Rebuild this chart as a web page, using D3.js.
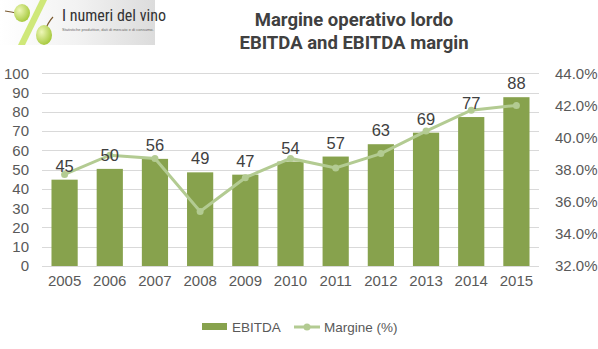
<!DOCTYPE html>
<html><head><meta charset="utf-8">
<script src="https://cdn.jsdelivr.net/npm/d3@7"></script>
<style>
body{margin:0;background:#fff;}
svg{display:block;}
</style></head>
<body>
<svg id="c" width="598" height="349"></svg>
<script>
const years = ["2005","2006","2007","2008","2009","2010","2011","2012","2013","2014","2015"];
const ebitda = [44.8, 50.4, 55.6, 48.6, 47.4, 54.2, 56.8, 63.2, 69.2, 77.3, 87.6];
const margin = [37.7, 38.9, 38.7, 35.4, 37.5, 38.7, 38.1, 39.0, 40.4, 41.7, 42.0];
const leftTicks = [0,10,20,30,40,50,60,70,80,90,100];
const rightTicks = [32,34,36,38,40,42,44];
const titleLines = ["Margine operativo lordo","EBITDA and EBITDA margin"];

const svg = d3.select("#c");
const font = "'Liberation Sans',Arial,sans-serif";
const tfont = "Roboto,'Liberation Sans',Arial,sans-serif";
const x0 = 42, x1 = 539, yTop = 73.3, yBot = 266;
const x = d3.scaleBand().domain(years).range([x0,x1]).paddingInner(0.42).paddingOuter(0.21);
const y = d3.scaleLinear().domain([0,100]).range([yBot,yTop]);
const y2 = d3.scaleLinear().domain([32,44]).range([yBot,yTop]);
const barColor = "#87a24d", lineColor = "#b3cb92", txt = "#595959";

// Logo
const defs = svg.append("defs");
const g1 = defs.append("linearGradient").attr("id","lg").attr("x1",0).attr("x2",1);
g1.append("stop").attr("offset","0").attr("stop-color","#ffffff");
g1.append("stop").attr("offset","0.5").attr("stop-color","#f2f2f2");
g1.append("stop").attr("offset","1").attr("stop-color","#dcdcdc");
const rg = defs.append("radialGradient").attr("id","grape").attr("cx","0.35").attr("cy","0.35").attr("r","0.7");
rg.append("stop").attr("offset","0").attr("stop-color","#eef7b8");
rg.append("stop").attr("offset","1").attr("stop-color","#a5c83a");
const logo = svg.append("g");
logo.append("rect").attr("x",0).attr("y",0).attr("width",155).attr("height",45).attr("fill","url(#lg)");
logo.append("polygon").attr("points","40,0 47,0 25,45 18,45").attr("fill","#cfe879");
logo.append("path").attr("d","M5,11 Q12,12 16,13").attr("stroke","#7a5a30").attr("stroke-width",1.2).attr("fill","none");
logo.append("ellipse").attr("cx",22).attr("cy",13).attr("rx",8).attr("ry",9).attr("fill","url(#grape)");
logo.append("path").attr("d","M44,33 Q48,22 53,17").attr("stroke","#7a5a30").attr("stroke-width",1.2).attr("fill","none");
logo.append("ellipse").attr("cx",44).attr("cy",35).attr("rx",8).attr("ry",10).attr("fill","url(#grape)");
logo.append("text").attr("x",62).attr("y",21).attr("font-family","'Liberation Sans Narrow','Roboto Condensed',Arial").attr("font-size",16).attr("fill","#333").text("I numeri del vino");
logo.append("text").attr("x",62).attr("y",31).attr("font-family","Liberation Sans,Arial").attr("font-size",4).attr("fill","#666").text("Statistiche produttive, dati di mercato e di consumo.");

// Title
svg.append("g").selectAll("text").data(titleLines).join("text")
  .attr("x",354).attr("y",(d,i)=>26+i*23).attr("text-anchor","middle")
  .attr("font-family",tfont).attr("font-weight","bold").attr("font-size",18.5).attr("fill","#404040").text(d=>d);

// Gridlines
svg.append("g").selectAll("line").data(leftTicks).join("line")
  .attr("x1",x0).attr("x2",x1).attr("y1",d=>Math.round(y(d))+0.5).attr("y2",d=>Math.round(y(d))+0.5)
  .attr("stroke","#d9d9d9").attr("stroke-width",1);

// Left axis
const la = svg.append("g").attr("transform",`translate(${x0-13},0)`)
  .call(d3.axisLeft(y).tickValues(leftTicks).tickSize(0).tickPadding(0));
la.select(".domain").remove();
la.selectAll("text").attr("font-family",font).attr("font-size",15).attr("fill",txt);

// Right axis
const ra = svg.append("g").attr("transform",`translate(${x1+16},0)`)
  .call(d3.axisRight(y2).tickValues(rightTicks).tickSize(0).tickPadding(0).tickFormat(d=>d.toFixed(1)+"%"));
ra.select(".domain").remove();
ra.selectAll("text").attr("font-family",font).attr("font-size",15).attr("fill",txt);

// Bars
svg.append("g").selectAll("rect").data(ebitda).join("rect")
  .attr("x",(d,i)=>x(years[i])).attr("width",x.bandwidth())
  .attr("y",d=>y(d)).attr("height",d=>yBot-y(d)).attr("fill",barColor);

// x axis line
svg.append("line").attr("x1",x0).attr("x2",x1).attr("y1",yBot+0.5).attr("y2",yBot+0.5).attr("stroke","#d9d9d9");

// X labels
const xa = svg.append("g").attr("transform",`translate(0,${yBot+9})`)
  .call(d3.axisBottom(x).tickSize(0).tickPadding(0));
xa.select(".domain").remove();
xa.selectAll("text").attr("font-family",font).attr("font-size",15).attr("fill",txt);

// Line
const line = d3.line().x((d,i)=>x(years[i])+x.bandwidth()/2).y(d=>y2(d));
svg.append("path").datum(margin).attr("d",line).attr("fill","none").attr("stroke",lineColor).attr("stroke-width",3);
svg.append("g").selectAll("circle").data(margin).join("circle")
  .attr("cx",(d,i)=>x(years[i])+x.bandwidth()/2).attr("cy",d=>y2(d)).attr("r",3.5).attr("fill",lineColor);

// Data labels
svg.append("g").selectAll("text").data(ebitda).join("text")
  .attr("x",(d,i)=>x(years[i])+x.bandwidth()/2).attr("y",d=>y(d)-8).attr("text-anchor","middle")
  .attr("font-family",font).attr("font-size",16.5).attr("fill","#404040").text(d=>Math.round(d));

// Legend
const lg = svg.append("g");
lg.append("rect").attr("x",202).attr("y",323).attr("width",25).attr("height",7).attr("fill",barColor);
lg.append("text").attr("x",232).attr("y",332).attr("font-family",font).attr("font-size",13.5).attr("fill",txt).text("EBITDA");
lg.append("line").attr("x1",294).attr("x2",320).attr("y1",327).attr("y2",327).attr("stroke",lineColor).attr("stroke-width",3);
lg.append("circle").attr("cx",307).attr("cy",327).attr("r",3.5).attr("fill",lineColor);
lg.append("text").attr("x",324).attr("y",332).attr("font-family",font).attr("font-size",13.5).attr("fill",txt).text("Margine (%)");
</script>
</body></html>
